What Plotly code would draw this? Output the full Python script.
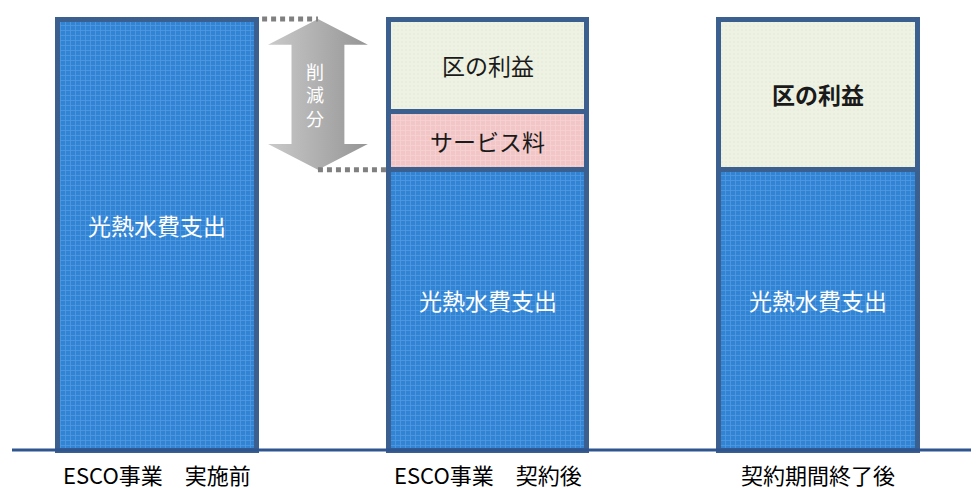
import plotly.graph_objects as go

# ---- data ----
categories = ["ESCO事業　実施前", "ESCO事業　契約後", "契約期間終了後"]
utility_cost = [100, 65, 65]        # 光熱水費支出
service_fee = [None, 13.5, None]    # サービス料
city_profit = [None, 21.5, 35]      # 区の利益
utility_label = "光熱水費支出"
service_label = "サービス料"
profit_label = "区の利益"
reduction_label = "削減分"

# ---- layout constants (page body has an 8px margin) ----
W, H = 971, 488
positions = list(range(len(categories)))
BAR_W = 0.6
FONT = "Noto Sans CJK JP"
OUTLINE = "#3B5F8E"
K = 4.31          # px per unit
Y0 = 442          # figure pixel of value 0
UNIT_X = 330.5    # px per category
X0 = 149          # figure pixel of first category

fig = go.Figure()

fig.add_trace(go.Bar(
    x=positions, y=utility_cost, width=BAR_W,
    marker=dict(color="#3184D4", line=dict(color=OUTLINE, width=5),
                pattern=dict(shape="+", bgcolor="#3184D4", fgcolor="#6DAEEA",
                             size=5, solidity=0.3)),
    hoverinfo="skip"))
fig.add_trace(go.Bar(
    x=positions, y=service_fee, width=BAR_W,
    marker=dict(color="#F2C6C6", line=dict(color=OUTLINE, width=5),
                pattern=dict(shape="+", bgcolor="#F2C6C6", fgcolor="#F8DEDE",
                             size=5, solidity=0.3)),
    hoverinfo="skip"))
fig.add_trace(go.Bar(
    x=positions, y=city_profit, width=BAR_W,
    marker=dict(color="#EEF2E3", line=dict(color=OUTLINE, width=5),
                pattern=dict(shape=".", bgcolor="#EEF2E3", fgcolor="#E2E9D3",
                             size=4, solidity=0.3)),
    hoverinfo="skip"))

# ---- reduction arrow (between bar 0 total and bar 1 utility cost) ----
top = utility_cost[0]
bot = utility_cost[1]
c = positions[0] + 0.487
hw, sw, hl = 0.151, 0.08, 6.0
ax = [c, c + hw, c + sw, c + sw, c + hw, c, c - hw, c - sw, c - sw, c - hw, c]
ay = [top, top - hl, top - hl, bot + hl, bot + hl, bot, bot + hl, bot + hl, top - hl, top - hl, top]
fig.add_trace(go.Scatter(
    x=ax, y=ay, mode="lines", fill="toself", line=dict(width=0, color="#A8A8A8"),
    fillgradient=dict(type="horizontal", colorscale=[[0, "#CACACA"], [1, "#959595"]]),
    hoverinfo="skip", showlegend=False))

mid = (top + bot) / 2
annotations = [dict(x=c - 0.01, y=mid, xref="x", yref="y",
                    text="<br>".join(reduction_label), showarrow=False,
                    font=dict(family=FONT, size=18, color="white"))]

# ---- segment labels ----
for i, p in enumerate(positions):
    u = utility_cost[i]
    annotations.append(dict(x=p, y=u / 2, xref="x", yref="y", text=utility_label,
                            showarrow=False, yshift=10,
                            font=dict(family=FONT, size=23, color="white")))
    base = u
    if service_fee[i] is not None:
        annotations.append(dict(x=p, y=base + service_fee[i] / 2, xref="x", yref="y",
                                text=service_label, showarrow=False,
                                font=dict(family=FONT, size=23, color="#1A1A1A")))
        base += service_fee[i]
    if city_profit[i] is not None:
        txt = profit_label if service_fee[i] is not None else "<b>" + profit_label + "</b>"
        annotations.append(dict(x=p, y=base + city_profit[i] / 2, xref="x", yref="y",
                                text=txt, showarrow=False,
                                font=dict(family=FONT, size=23, color="#1A1A1A")))

# ---- category labels ----
for p, cat in zip(positions, categories):
    annotations.append(dict(x=p, y=0, xref="x", yref="y", text=cat, showarrow=False,
                            yshift=-24, yanchor="middle",
                            font=dict(family=FONT, size=22, color="black")))

shapes = [
    # baseline
    dict(type="line", xref="paper", yref="y", x0=4 / W, x1=1, y0=0, y1=0,
         line=dict(color="#2F5590", width=3)),
    # dotted guide lines
    dict(type="line", xref="x", yref="y",
         x0=positions[0] + BAR_W / 2 + 0.018, x1=c, y0=top, y1=top,
         line=dict(color="#808080", width=5, dash="5px,4px")),
    dict(type="line", xref="x", yref="y",
         x0=c, x1=positions[1] - BAR_W / 2, y0=bot, y1=bot,
         line=dict(color="#808080", width=5, dash="5px,4px")),
]

t_m, b_m = 0, 29
ymax = (Y0 - t_m) / K
ymin = -((H - b_m) - Y0) / K

fig.update_layout(
    width=W, height=H,
    margin=dict(l=0, r=0, t=t_m, b=b_m, pad=0),
    barmode="stack", showlegend=False,
    plot_bgcolor="white", paper_bgcolor="white",
    xaxis=dict(range=[-X0 / UNIT_X, 2 + (W - (X0 + 2 * UNIT_X)) / UNIT_X],
               visible=False, fixedrange=True),
    yaxis=dict(range=[ymin, ymax], visible=False, fixedrange=True),
    annotations=annotations, shapes=shapes,
)

fig.write_html("out.html")
